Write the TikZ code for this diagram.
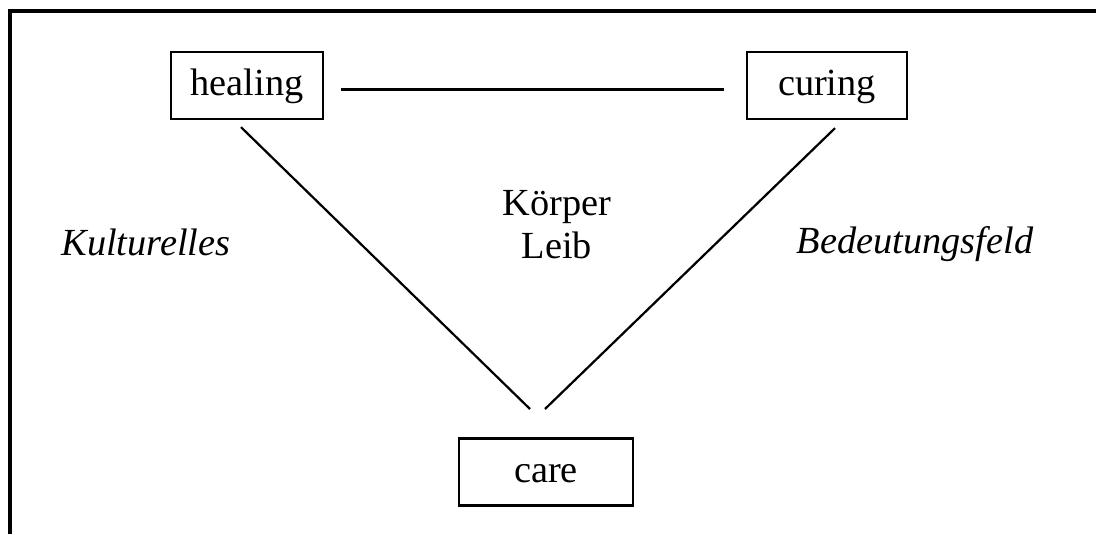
\documentclass[tikz,border=0pt]{standalone}
\usepackage{fontspec}
\setmainfont{Liberation Serif}
\usetikzlibrary{calc,positioning}
\tikzset{
	term/.style={draw, line width=0.7pt, font=\fontsize{12}{13.2}\selectfont, minimum height=21pt, inner sep=0pt, text height=1.5ex, text depth=0.1ex},
	word/.style={font=\fontsize{12}{13.2}\selectfont, inner sep=0pt, anchor=base}
}
\begin{document}
\begin{tikzpicture}[x=0.011cm, y=-0.011cm]
				\useasboundingbox (0,0) rectangle (1096,534);
				
				\coordinate (frameR) at (1096,11);
				\coordinate (frameC) at (10,11);
				\coordinate (frameB) at (10,534);
				\draw[line width=1pt] (frameR) -- (frameC) -- (frameB);
				
				\node[term, minimum width=47.6pt] (healing) at (247,85.5) {healing};
				\node[term, minimum width=50.1pt] (curing) at (827,85.5) {curing};
				\node[term, minimum width=54.5pt] (care) at (546,472) {care};
				
				\coordinate (tipL) at (530,409);
				\coordinate (tipR) at (545,409);
				
				\draw[line width=0.7pt] ($(healing.east)+(17,4)$) -- ($(curing.west)+(-22,4)$);
				\draw[line width=0.7pt] ($(healing.south)+(-6,7)$) -- (tipL);
				\draw[line width=0.7pt] ($(curing.south)+(8,8)$) -- (tipR);
				
				\node[word] (koerper) at (557,215) {Körper};
				\node[word] (leib) at (557,258) {Leib};
				\node[word] (kult) at (146,255) {\itshape Kulturelles};
				\node[word] (bedeut) at (915,253) {\itshape Bedeutungsfeld};
			\end{tikzpicture}
\end{document}
